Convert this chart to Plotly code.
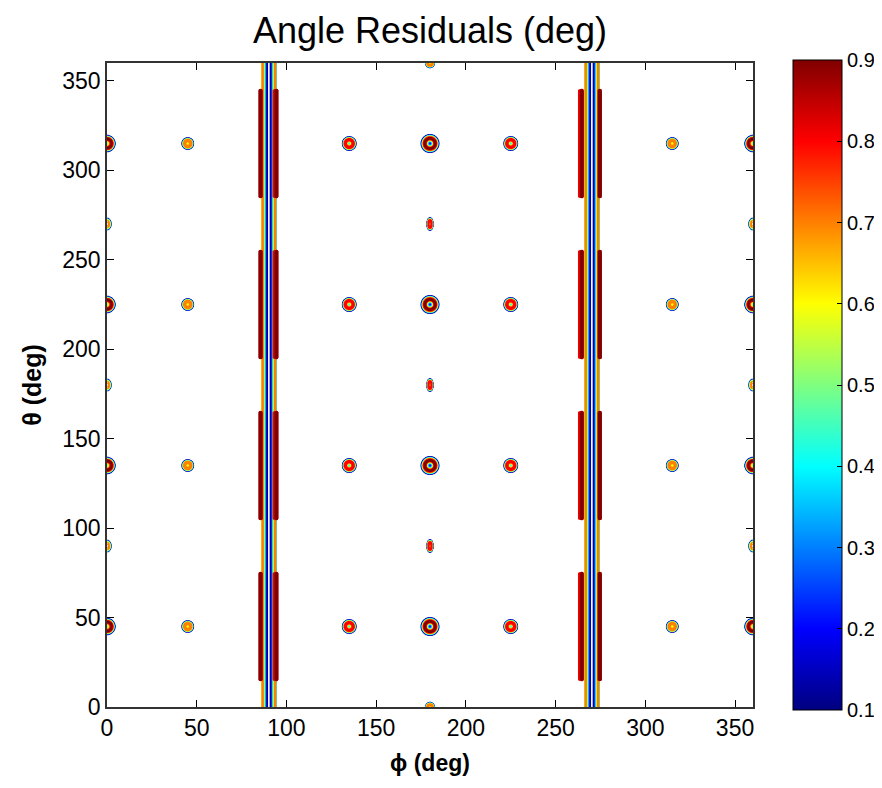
import numpy as np
import plotly.graph_objects as go

# ---- values ----
tick_vals = [0, 50, 100, 150, 200, 250, 300, 350]
cbar_ticks = [0.1, 0.2, 0.3, 0.4, 0.5, 0.6, 0.7, 0.8, 0.9]

# main residual spots: columns in phi, rows in theta
main_phi = [0, 45, 135, 180, 225, 315, 360]
main_theta = [45, 135, 225, 315]
main_radius = [4.3, 3.0, 3.6, 4.8, 3.6, 3.0, 4.3]
main_peak = [0.93, 0.79, 0.89, 0.93, 0.89, 0.79, 0.93]
main_center = [0.45, 0.56, 0.36, 0.16, 0.36, 0.56, 0.45]

# smaller spots
minor_phi = [180, 180, 180, 0, 0, 0, 360, 360, 360, 180, 180]
minor_theta = [90, 180, 270, 90, 180, 270, 90, 180, 270, 0, 360]
minor_rx = [1.5, 1.5, 1.5, 2.0, 2.0, 2.0, 2.0, 2.0, 2.0, 2.3, 2.3]
minor_ry = [3.3, 3.3, 3.3, 3.0, 3.0, 3.0, 3.0, 3.0, 3.0, 2.3, 2.3]
minor_peak = [0.83, 0.83, 0.83, 0.72, 0.72, 0.72, 0.72, 0.72, 0.72, 0.80, 0.80]
minor_center = [0.55, 0.55, 0.55, 0.60, 0.60, 0.60, 0.60, 0.60, 0.60, 0.45, 0.45]

# vertical stripes (singular regions near phi = 90 and 270)
stripe_phi = [90.2, 270.2]
stripe_halfwidth = [3.5, 3.5]
stripe_center_value = [0.04, 0.04]
stripe_edge_value = [0.76, 0.76]

# ridges beside the stripes, present only in theta segments
ridge_phi = [85.6, 93.3, 94.4, 263.5, 264.6, 274.6]
ridge_peak = [1.0, 0.85, 1.0, 0.85, 1.0, 1.0]
ridge_width = [0.42, 0.3, 0.35, 0.3, 0.35, 0.42]
segment_start = [15, 105, 195, 285]
segment_end = [75, 165, 255, 345]

# ---- build the residual field on a grid ----
phi = np.unique(np.round(np.concatenate([
    np.arange(0, 360.0001, 0.5),
    np.arange(78, 102, 0.1),
    np.arange(258, 282, 0.1),
    np.arange(175, 185, 0.25)]), 3))
theta = np.arange(0, 360.0001, 0.5)
P, T = np.meshgrid(phi, theta)
Z = np.zeros_like(P)


def volcano(rn, peak, center, r0=0.55):
    k = np.log(peak / 0.08)
    outer = peak * np.exp(-k * (np.clip(rn - r0, 0, None) / (1 - r0)) ** 3)
    inner = center + (peak - center) * (rn / r0) ** 2
    return np.where(rn < r0, inner, outer)


for j, ph in enumerate(main_phi):
    for th in main_theta:
        rn = np.sqrt((P - ph) ** 2 + (T - th) ** 2) / main_radius[j]
        Z = np.maximum(Z, volcano(rn, main_peak[j], main_center[j]))

for i in range(len(minor_phi)):
    rn = np.sqrt(((P - minor_phi[i]) / minor_rx[i]) ** 2 + ((T - minor_theta[i]) / minor_ry[i]) ** 2)
    Z = np.maximum(Z, volcano(rn, minor_peak[i], minor_center[i]))

for i in range(len(stripe_phi)):
    d = np.abs(P - stripe_phi[i])
    hw = stripe_halfwidth[i]
    c, e = stripe_center_value[i], stripe_edge_value[i]
    prof = np.where(d < hw, c + (e - c) * (d / hw) ** 2,
                    np.where(d < hw + 0.35, e * (1 - (d - hw) / 0.35), 0.0))
    Z = np.maximum(Z, prof)

Z[Z < 0.02] = 0
Z = Z.astype(np.float32)

# ridge field (drawn as thick bands)
win = np.zeros_like(T)
for a, b in zip(segment_start, segment_end):
    win = np.maximum(win, np.clip(np.minimum(T - a, b - T) / 1.0 + 0.5, 0, 1))
R = np.zeros_like(P)
for i in range(len(ridge_phi)):
    d = np.abs(P - ridge_phi[i])
    R = np.maximum(R, ridge_peak[i] * np.exp(-(d / ridge_width[i]) ** 10) * win)
R[R < 0.02] = 0
R = R.astype(np.float32)

jet = [[0, 'rgb(0,0,128)'], [0.125, 'rgb(0,0,255)'], [0.375, 'rgb(0,255,255)'],
       [0.625, 'rgb(255,255,0)'], [0.875, 'rgb(255,0,0)'], [1, 'rgb(128,0,0)']]

FONT = 'Liberation Sans, Arial, sans-serif'

fig = go.Figure()
fig.add_trace(go.Contour(
    x=phi, y=theta, z=Z,
    contours=dict(start=0.1, end=0.9, size=0.1, coloring='lines'),
    line=dict(width=2),
    colorscale=jet, zmin=0.1, zmax=0.9, zauto=False,
    showscale=False, hoverinfo='skip'))

# red bands (level 0.8) then maroon bands (level 0.9)
fig.add_trace(go.Contour(
    x=phi, y=theta, z=R,
    contours=dict(start=0.8, end=0.8, size=0.1, coloring='none'),
    line=dict(width=3, color='rgb(235,0,0)'),
    showscale=False, hoverinfo='skip'))
fig.add_trace(go.Contour(
    x=phi, y=theta, z=R,
    contours=dict(start=0.9, end=0.9, size=0.1, coloring='none'),
    line=dict(width=3, color='rgb(128,0,0)'),
    showscale=False, hoverinfo='skip'))

fig.add_trace(go.Scatter(
    x=[-50], y=[-50], mode='markers', hoverinfo='skip', showlegend=False,
    marker=dict(color=[0.5], colorscale=jet, cmin=0.1, cmax=0.9, showscale=True,
                colorbar=dict(x=1.062, xanchor='left', y=0.5, yanchor='middle',
                              len=650, lenmode='pixels', thickness=49, thicknessmode='pixels',
                              outlinewidth=1, outlinecolor='black',
                              tickvals=cbar_ticks, tickformat='.1f',
                              ticks='inside', ticklen=5, tickcolor='black',
                              tickfont=dict(size=20, color='black', family=FONT),
                              xpad=0, ypad=0))))

axis_common = dict(range=[0, 360], tickvals=tick_vals, ticks='inside', ticklen=7,
                   tickcolor='black', mirror='ticks', showline=True, linecolor='#333',
                   linewidth=1.5, showgrid=False, zeroline=False,
                   tickfont=dict(size=23, color='black', family=FONT))

fig.update_layout(
    width=874, height=772,
    margin=dict(l=99, r=129, t=55, b=73, autoexpand=False),
    paper_bgcolor='white', plot_bgcolor='white',
    font=dict(family=FONT, color='black'),
    title=dict(text='Angle Residuals (deg)', x=0.5, xref='paper', y=1 - 22 / 772,
               yref='container', yanchor='middle', xanchor='center',
               font=dict(size=36, color='black', family=FONT)),
    xaxis=dict(**axis_common,
               title=dict(text='ϕ (deg)', standoff=15,
                          font=dict(size=23, color='black', family=FONT, weight='bold'))),
    yaxis=dict(**axis_common,
               title=dict(text='θ (deg)', standoff=14,
                          font=dict(size=25, color='black', family=FONT, weight='bold'))),
    showlegend=False,
)

fig.write_html('out.html')
